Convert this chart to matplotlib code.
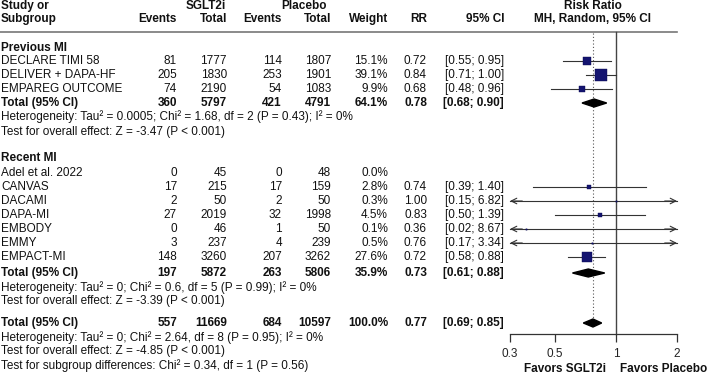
import matplotlib
matplotlib.use("Agg")
import matplotlib.pyplot as plt
import numpy as np

# ---- data ----
prev_names = ["DECLARE TIMI 58", "DELIVER + DAPA-HF", "EMPAREG OUTCOME"]
prev_ev_s = [81, 205, 74]
prev_tot_s = [1777, 1830, 2190]
prev_ev_p = [114, 253, 54]
prev_tot_p = [1807, 1901, 1083]
prev_weight = [15.1, 39.1, 9.9]
prev_rr = [0.72, 0.84, 0.68]
prev_lo = [0.55, 0.71, 0.48]
prev_hi = [0.95, 1.00, 0.96]
prev_total = [360, 5797, 421, 4791, 64.1, 0.78, 0.68, 0.90]

rec_names = ["Adel et al. 2022", "CANVAS", "DACAMI", "DAPA-MI", "EMBODY", "EMMY", "EMPACT-MI"]
rec_ev_s = [0, 17, 2, 27, 0, 3, 148]
rec_tot_s = [45, 215, 50, 2019, 46, 237, 3260]
rec_ev_p = [0, 17, 2, 32, 1, 4, 207]
rec_tot_p = [48, 159, 50, 1998, 50, 239, 3262]
rec_weight = [0.0, 2.8, 0.3, 4.5, 0.1, 0.5, 27.6]
rec_rr = [None, 0.74, 1.00, 0.83, 0.36, 0.76, 0.72]
rec_lo = [None, 0.39, 0.15, 0.50, 0.02, 0.17, 0.58]
rec_hi = [None, 1.40, 6.82, 1.39, 8.67, 3.34, 0.88]
rec_total = [197, 5872, 263, 5806, 35.9, 0.73, 0.61, 0.88]

all_total = [557, 11669, 684, 10597, 100.0, 0.77, 0.69, 0.85]

prev_notes = ["Heterogeneity: Tau² = 0.0005; Chi² = 1.68, df = 2 (P = 0.43); I² = 0%",
              "Test for overall effect: Z = -3.47 (P < 0.001)"]
rec_notes = ["Heterogeneity: Tau² = 0; Chi² = 0.6, df = 5 (P = 0.99); I² = 0%",
             "Test for overall effect: Z = -3.39 (P < 0.001)"]
all_notes = ["Heterogeneity: Tau² = 0; Chi² = 2.64, df = 8 (P = 0.95); I² = 0%",
             "Test for overall effect: Z = -4.85 (P < 0.001)",
             "Test for subgroup differences: Chi² = 0.34, df = 1 (P = 0.56)"]

ticks = [0.3, 0.5, 1, 2]
xmin, xmax = 0.3, 2

# ---- layout (pixel rows / columns) ----
W, H = 708, 378
plt.rcParams['font.family'] = ['Liberation Sans', 'DejaVu Sans']
fs = 8.5
col_r = [177, 227, 282, 331, 388, 427, 504]

y_prev_head = 48
y_prev = [61, 75, 89]
y_prev_tot = 103
y_prev_notes = [117, 132]
y_rec_head = 158
y_rec = [173, 187, 201, 215, 229, 243, 257]
y_rec_tot = 273
y_rec_notes = [288, 301]
y_all_tot = 323
y_all_notes = [338, 351, 366]

fig = plt.figure(figsize=(W / 100, H / 100), dpi=100)
ax = fig.add_axes([0, 0, 1, 1])
ax.set_xlim(0, W)
ax.set_ylim(H, 0)
ax.axis("off")

fa = fig.add_axes([510 / W, (H - 334) / H, 167 / W, (334 - 32) / H])
fa.set_xscale("log")
fa.set_xlim(xmin, xmax)
fa.set_ylim(334, 32)
fa.patch.set_alpha(0)
for s in ["top", "right", "left"]:
    fa.spines[s].set_visible(False)
fa.spines["bottom"].set_color("#333333")
fa.spines["bottom"].set_linewidth(0.9)
fa.set_yticks([])
fa.set_xticks(ticks)
fa.set_xticklabels([str(t) for t in ticks], fontsize=fs, color="#222222")
fa.xaxis.set_minor_locator(matplotlib.ticker.NullLocator())
fa.tick_params(axis="x", direction="out", length=6, width=0.9, color="#333333", pad=4)


def txt(x, y, s, ha="left", bold=False):
    ax.text(x, y, s, ha=ha, va="center", fontsize=fs, color="#111111",
            fontweight="bold" if bold else "normal")


# header
txt(1, 6, "Study or", bold=True)
txt(1, 19, "Subgroup", bold=True)
txt(206, 6, "SGLT2i", ha="center", bold=True)
txt(304, 6, "Placebo", ha="center", bold=True)
for x, s in zip(col_r, ["Events", "Total", "Events", "Total", "Weight", "RR", "95% CI"]):
    txt(x, 19, s, ha="right", bold=True)
txt(593, 6, "Risk Ratio", ha="center", bold=True)
txt(593, 19, "MH, Random, 95% CI", ha="center", bold=True)
ax.plot([0, 677], [32, 32], color="#777777", lw=1.2)


def row(y, name, es, ts, ep, tp, w, rr, lo, hi, bold=False):
    txt(1, y, name, bold=bold)
    vals = [str(es), str(ts), str(ep), str(tp), f"{w:.1f}%"]
    if rr is not None:
        vals += [f"{rr:.2f}", f"[{lo:.2f}; {hi:.2f}]"]
    for x, v in zip(col_r, vals):
        txt(x, y, v, ha="right", bold=bold)


def study_mark(y, w, rr, lo, hi):
    if rr is None:
        return
    a, b = max(lo, xmin), min(hi, xmax)
    fa.plot([a, b], [y, y], color="#333333", lw=0.8, clip_on=False)
    if lo < xmin:
        fa.annotate("", xy=(xmin, y), xytext=(xmin * 1.15, y),
                    arrowprops=dict(arrowstyle="->", color="#333333", lw=0.8,
                                    shrinkA=0, shrinkB=0), annotation_clip=False)
    if hi > xmax:
        fa.annotate("", xy=(xmax, y), xytext=(xmax / 1.15, y),
                    arrowprops=dict(arrowstyle="->", color="#333333", lw=0.8,
                                    shrinkA=0, shrinkB=0), annotation_clip=False)
    side = max(1.92 * np.sqrt(w), 1.3) * 0.72
    fa.plot([rr], [y], marker="s", ms=side, color="#141470", mec="#0a0a50",
            mew=0.3, clip_on=False, zorder=3)


def diamond(y, rr, lo, hi):
    fa.fill([lo, rr, hi, rr], [y, y - 4, y, y + 4], color="black", zorder=3,
            clip_on=False)


# previous MI
txt(1, y_prev_head, "Previous MI", bold=True)
for i, y in enumerate(y_prev):
    row(y, prev_names[i], prev_ev_s[i], prev_tot_s[i], prev_ev_p[i], prev_tot_p[i],
        prev_weight[i], prev_rr[i], prev_lo[i], prev_hi[i])
    study_mark(y, prev_weight[i], prev_rr[i], prev_lo[i], prev_hi[i])
row(y_prev_tot, "Total (95% CI)", *prev_total, bold=True)
diamond(y_prev_tot, *prev_total[5:])
for y, s in zip(y_prev_notes, prev_notes):
    txt(1, y, s)

# recent MI
txt(1, y_rec_head, "Recent MI", bold=True)
for i, y in enumerate(y_rec):
    row(y, rec_names[i], rec_ev_s[i], rec_tot_s[i], rec_ev_p[i], rec_tot_p[i],
        rec_weight[i], rec_rr[i], rec_lo[i], rec_hi[i])
    study_mark(y, rec_weight[i], rec_rr[i], rec_lo[i], rec_hi[i])
row(y_rec_tot, "Total (95% CI)", *rec_total, bold=True)
diamond(y_rec_tot, *rec_total[5:])
for y, s in zip(y_rec_notes, rec_notes):
    txt(1, y, s)

# overall
row(y_all_tot, "Total (95% CI)", *all_total, bold=True)
diamond(y_all_tot, *all_total[5:])
for y, s in zip(y_all_notes, all_notes):
    txt(1, y, s)

# reference lines
fa.plot([1, 1], [32, 334], color="#444444", lw=1.0, clip_on=False, zorder=1)
fa.plot([all_total[5]] * 2, [33, y_all_tot], color="#555555", lw=0.8,
        ls=(0, (1, 2)), clip_on=False, zorder=1)

txt(606, 369, "Favors SGLT2i", ha="right", bold=True)
txt(620, 369, "Favors Placebo", ha="left", bold=True)

fig.savefig("out.png", dpi=100)
